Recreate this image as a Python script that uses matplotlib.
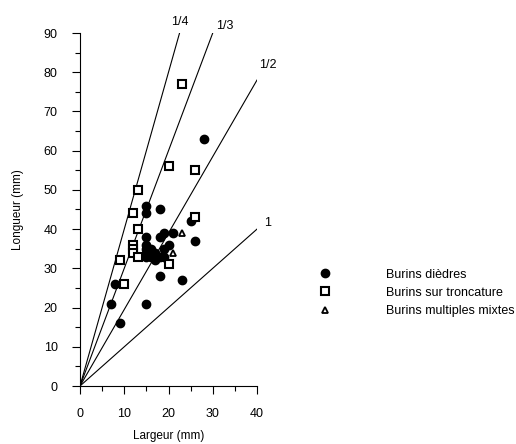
import numpy as np
import matplotlib
matplotlib.use('Agg')
import matplotlib.pyplot as plt
from matplotlib.ticker import MultipleLocator

plt.rcParams['font.family'] = ['Liberation Sans', 'DejaVu Sans']

# Burins dièdres (largeur, longueur)
diedres_x = [28, 15, 18, 15, 25, 15, 18, 19, 21, 26, 20, 19, 15, 15, 15, 15, 16, 16, 17, 17, 18, 19, 16, 18, 23, 8, 7, 15, 9]
diedres_y = [63, 46, 45, 44, 42, 38, 38, 39, 39, 37, 36, 35, 36, 35, 34, 33, 35, 34, 34, 32, 33, 33, 33, 28, 27, 26, 21, 21, 16]

# Burins sur troncature
tronc_x = [23, 20, 26, 13, 12, 13, 26, 12, 12, 12, 13, 9, 20, 10]
tronc_y = [77, 56, 55, 50, 44, 40, 43, 36, 35, 34, 33, 32, 31, 26]

# Burins multiples mixtes
mixtes_x = [23, 21]
mixtes_y = [39, 34]

# droites largeur/longueur (extrémités)
ratio_labels = ['1/4', '1/3', '1/2', '1']
ratio_end_x = [22.5, 30, 40, 40]
ratio_end_y = [90, 90, 78, 40]
label_pos = [(22.5, 92.7), (32.6, 91.8), (42.5, 81.9), (42.3, 41.5)]

fig = plt.figure(figsize=(5.16, 4.44), dpi=100)
ax = fig.add_axes([80/516, 1-386/444, 177/516, 353/444])

for xe, ye in zip(ratio_end_x, ratio_end_y):
  ax.plot([0, xe], [0, ye], color='black', linewidth=0.8)
for lab, (lx, ly) in zip(ratio_labels, label_pos):
  ax.text(lx, ly, lab, fontsize=9, ha='center', va='center', clip_on=False)

ax.plot(diedres_x, diedres_y, 'o', color='black', markersize=6, linestyle='none',
        label='Burins dièdres', clip_on=False)
ax.plot(tronc_x, tronc_y, 's', markerfacecolor='white', markeredgecolor='black',
        markeredgewidth=1.5, markersize=6, linestyle='none', label='Burins sur troncature')
ax.plot(mixtes_x, mixtes_y, '^', markerfacecolor='white', markeredgecolor='black',
        markeredgewidth=1.3, markersize=5, linestyle='none', label='Burins multiples mixtes')

ax.set_xlim(0, 40)
ax.set_ylim(0, 90)
ax.spines['top'].set_visible(False)
ax.spines['right'].set_visible(False)
ax.spines['left'].set_linewidth(0.8)
ax.spines['bottom'].set_linewidth(0.8)
ax.xaxis.set_major_locator(MultipleLocator(10))
ax.xaxis.set_minor_locator(MultipleLocator(5))
ax.yaxis.set_major_locator(MultipleLocator(10))
ax.yaxis.set_minor_locator(MultipleLocator(5))
ax.tick_params(which='major', direction='out', length=6, width=0.8, labelsize=9, pad=10)
ax.tick_params(which='minor', direction='out', length=3.5, width=0.8)
ax.set_xlabel('Largeur (mm)', fontsize=8.5, labelpad=7)
ax.set_ylabel('Longueur (mm)', fontsize=8.5, labelpad=14)

ax.legend(loc='upper left', bbox_to_anchor=(319/516, 1-268.5/444), bbox_transform=fig.transFigure,
          frameon=False, fontsize=9, handlelength=1, handletextpad=4.4, labelspacing=0.5,
          borderaxespad=0, borderpad=0)

fig.savefig('out.png', dpi=100)
